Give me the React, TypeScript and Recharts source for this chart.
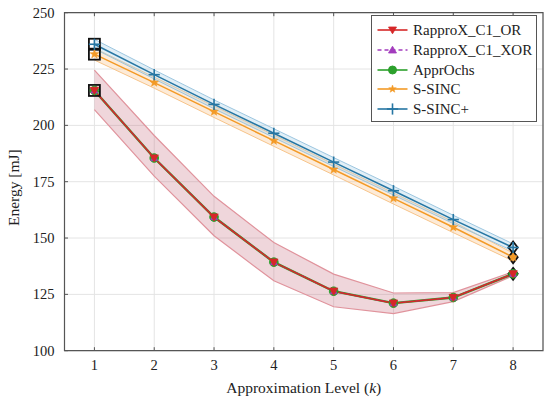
import React from "react";
import {
  Area,
  CartesianGrid,
  ComposedChart,
  Legend,
  Line,
  ReferenceArea,
  Scatter,
  XAxis,
  YAxis,
} from "recharts";

// approximation levels k
const LEVELS = [1, 2, 3, 4, 5, 6, 7, 8];

// energy in mJ
const RAPPROX_OR = [215.5, 185.5, 159.3, 139.3, 126.4, 121.1, 123.6, 134.1];
const RAPPROX_XOR = [215.5, 185.5, 159.3, 139.3, 126.4, 121.1, 123.6, 134.1];
const APPR_OCHS = [215.5, 185.5, 159.3, 139.3, 126.4, 121.1, 123.6, 134.1];
const S_SINC = [231.6, 219.0, 206.1, 193.2, 180.4, 167.6, 154.8, 141.5];
const S_SINC_PLUS = [236.0, 222.5, 209.3, 196.5, 183.7, 171.0, 158.2, 145.8];

// spread bands (min / max)
const OR_LOW = [207.0, 177.5, 151.0, 131.0, 119.5, 116.5, 121.8, 133.3];
const OR_HIGH = [224.5, 195.5, 168.5, 148.0, 134.0, 125.6, 125.8, 135.0];
const SINC_LOW = [229.0, 216.5, 203.5, 190.7, 178.0, 165.1, 152.4, 139.8];
const SINC_HIGH = [234.2, 221.4, 208.6, 195.7, 182.8, 170.0, 157.2, 143.3];
const PLUS_LOW = [234.0, 220.6, 207.4, 194.6, 181.8, 169.1, 156.4, 144.2];
const PLUS_HIGH = [238.2, 224.6, 211.3, 198.5, 185.7, 173.0, 160.1, 147.4];

const Y_TICKS = [100, 125, 150, 175, 200, 225, 250];

const RED = "#d62728";
const PURPLE = "#a23bbd";
const GREEN = "#2ca02c";
const ORANGE = "#f39a26";
const BLUE = "#2676a3";
const AXIS = "#555";
const GRID = "#e4e4e4";
const FONT = "'Liberation Serif', 'DejaVu Serif', serif";

const rows = LEVELS.map((k, i) => ({
  k,
  or: RAPPROX_OR[i],
  xor: RAPPROX_XOR[i],
  ochs: APPR_OCHS[i],
  sinc: S_SINC[i],
  plus: S_SINC_PLUS[i],
  orBand: [OR_LOW[i], OR_HIGH[i]],
  sincBand: [SINC_LOW[i], SINC_HIGH[i]],
  plusBand: [PLUS_LOW[i], PLUS_HIGH[i]],
}));

const first = (s: number[]) => [{ k: LEVELS[0], v: s[0] }];
const last = (s: number[]) => [{ k: LEVELS[LEVELS.length - 1], v: s[s.length - 1] }];

// ---- marker shapes ----
function TriDown({ cx, cy, color, r = 4.2 }: any) {
  return (
    <path
      d={`M${cx - r},${cy - r * 0.75} L${cx + r},${cy - r * 0.75} L${cx},${cy + r * 0.95} Z`}
      fill={color}
      stroke={color}
      strokeWidth={0.8}
    />
  );
}
function TriUp({ cx, cy, color, r = 3.4 }: any) {
  return (
    <path
      d={`M${cx - r},${cy + r * 0.75} L${cx + r},${cy + r * 0.75} L${cx},${cy - r * 0.95} Z`}
      fill={color}
      stroke={color}
      strokeWidth={0.8}
    />
  );
}
function Dot({ cx, cy, color, r = 4.3 }: any) {
  return <circle cx={cx} cy={cy} r={r} fill={color} stroke={color} />;
}
function Star({ cx, cy, color, r = 4.6 }: any) {
  const pts: string[] = [];
  for (let i = 0; i < 10; i++) {
    const rad = i % 2 === 0 ? r : r * 0.42;
    const a = -Math.PI / 2 + (i * Math.PI) / 5;
    pts.push(`${cx + rad * Math.cos(a)},${cy + rad * Math.sin(a)}`);
  }
  return <polygon points={pts.join(" ")} fill={color} stroke={color} strokeWidth={0.5} />;
}
function Plus({ cx, cy, color, r = 5.6 }: any) {
  return (
    <g stroke={color} strokeWidth={1.6}>
      <line x1={cx - r} x2={cx + r} y1={cy} y2={cy} />
      <line x1={cx} x2={cx} y1={cy - r} y2={cy + r} />
    </g>
  );
}

const dotOf = (Shape: any, color: string) => (p: any) =>
  <Shape key={`d${p.index}`} cx={p.cx} cy={p.cy} color={color} />;

const squareShape = (p: any) => (
  <rect x={p.cx - 5.5} y={p.cy - 5.5} width={11} height={11} fill="none" stroke="#111" strokeWidth={1.8} />
);
const diamondShape = (fill: string) => (p: any) => (
  <path
    d={`M${p.cx},${p.cy - 6} L${p.cx + 4.6},${p.cy} L${p.cx},${p.cy + 6} L${p.cx - 4.6},${p.cy} Z`}
    fill={fill}
    fillOpacity={0.75}
    stroke="#111"
    strokeWidth={1.8}
  />
);

// ---- axis ticks (pgfplots style, inward) ----
function LeftTick({ x, y, payload }: any) {
  return (
    <g>
      <line x1={x} x2={x + 3.5} y1={y} y2={y} stroke={AXIS} />
      <text x={x - 10} y={y} dy={4.8} textAnchor="end" fontFamily={FONT} fontSize={14.5} fill="#222">
        {payload.value}
      </text>
    </g>
  );
}
function RightTick({ x, y }: any) {
  return <line x1={x - 3.5} x2={x} y1={y} y2={y} stroke={AXIS} />;
}
function BottomTick({ x, y, payload }: any) {
  return (
    <g>
      <line x1={x} x2={x} y1={y - 3.5} y2={y} stroke={AXIS} />
      <text x={x} y={y} dy={19.5} textAnchor="middle" fontFamily={FONT} fontSize={14.5} fill="#222">
        {payload.value}
      </text>
    </g>
  );
}
function TopTick({ x, y }: any) {
  return <line x1={x} x2={x} y1={y} y2={y + 3.5} stroke={AXIS} />;
}

function XTitle({ viewBox }: any) {
  const { x, y, width } = viewBox;
  return (
    <text x={x + width / 2} y={y + 42.5} textAnchor="middle" fontFamily={FONT} fontSize={15.5} fill="#222">
      Approximation Level (<tspan fontStyle="italic">k</tspan>)
    </text>
  );
}
function YTitle({ viewBox }: any) {
  const { x, y, height } = viewBox;
  const cx = x + 14;
  const cy = y + height / 2 + 6;
  return (
    <text
      x={cx}
      y={cy}
      textAnchor="middle"
      dominantBaseline="central"
      transform={`rotate(-90, ${cx}, ${cy})`}
      fontFamily={FONT}
      fontSize={15.5}
      fill="#222"
    >
      Energy [mJ]
    </text>
  );
}

const LEGEND_ITEMS = [
  { label: "RapproX_C1_OR", color: RED, Shape: TriDown, dash: undefined },
  { label: "RapproX_C1_XOR", color: PURPLE, Shape: TriUp, dash: "4 3" },
  { label: "ApprOchs", color: GREEN, Shape: Dot, dash: undefined },
  { label: "S-SINC", color: ORANGE, Shape: Star, dash: undefined },
  { label: "S-SINC+", color: BLUE, Shape: Plus, dash: undefined },
];

function LegendBox() {
  return (
    <div
      style={{
        boxSizing: "border-box",
        width: 166,
        height: 107,
        border: `1px solid ${AXIS}`,
        background: "#fff",
        paddingTop: 4.5,
        fontFamily: FONT,
        fontSize: 15,
        color: "#222",
      }}
    >
      {LEGEND_ITEMS.map((it) => (
        <div key={it.label} style={{ display: "flex", alignItems: "center", height: 19.7 }}>
          <svg width={36} height={14} style={{ marginLeft: 5, marginRight: 0, flex: "none" }}>
            <line x1={0.5} x2={30.5} y1={7} y2={7} stroke={it.color} strokeWidth={1.6} strokeDasharray={it.dash} />
            <it.Shape cx={15.5} cy={7} color={it.color} r={it.Shape === Plus ? 5.6 : 4} />
          </svg>
          <span style={{ lineHeight: "14px" }}>{it.label}</span>
        </div>
      ))}
    </div>
  );
}

export default function App() {
  return (
    <div style={{ width: 550, height: 404, background: "#fff" }}>
      <style>{"body{margin:0}"}</style>
      <ComposedChart
        width={550}
        height={404}
        data={rows}
        margin={{ top: 11.7, right: 6, bottom: 0, left: 0 }}
      >
        <CartesianGrid xAxisId="b" yAxisId="l" stroke={GRID} strokeWidth={1} />
        <XAxis
          xAxisId="b"
          dataKey="k"
          type="number"
          domain={[0.5, 8.5]}
          ticks={LEVELS}
          height={53.3}
          axisLine={false}
          tickLine={false}
          tickSize={0}
          tickMargin={0}
          tick={<BottomTick />}
          label={<XTitle />}
        />
        <XAxis
          xAxisId="t"
          orientation="top"
          dataKey="k"
          type="number"
          domain={[0.5, 8.5]}
          ticks={LEVELS}
          height={1}
          axisLine={false}
          tickLine={false}
          tickSize={0}
          tickMargin={0}
          tick={<TopTick />}
        />
        <YAxis
          yAxisId="l"
          domain={[100, 250]}
          ticks={Y_TICKS}
          width={64.5}
          axisLine={false}
          tickLine={false}
          tickSize={0}
          tickMargin={0}
          tick={<LeftTick />}
          label={<YTitle />}
        />
        <YAxis
          yAxisId="r"
          orientation="right"
          domain={[100, 250]}
          ticks={Y_TICKS}
          width={1}
          axisLine={false}
          tickLine={false}
          tickSize={0}
          tickMargin={0}
          tick={<RightTick />}
        />

        <Area xAxisId="b" yAxisId="l" type="linear" dataKey="orBand" stroke="#e0939c" strokeWidth={1.2}
          fill="#c46a7c" fillOpacity={0.28} isAnimationActive={false} dot={false} activeDot={false} />
        <Area xAxisId="b" yAxisId="l" type="linear" dataKey="sincBand" stroke="#f7c48a" strokeWidth={1}
          fill="#f8c78f" fillOpacity={0.35} isAnimationActive={false} dot={false} activeDot={false} />
        <Area xAxisId="b" yAxisId="l" type="linear" dataKey="plusBand" stroke="#9cc6e0" strokeWidth={1}
          fill="#a9d0e8" fillOpacity={0.35} isAnimationActive={false} dot={false} activeDot={false} />

        <Line xAxisId="b" yAxisId="l" type="linear" dataKey="ochs" stroke={GREEN} strokeWidth={2.4}
          dot={dotOf(Dot, GREEN)} activeDot={false} isAnimationActive={false} />
        <Line xAxisId="b" yAxisId="l" type="linear" dataKey="xor" stroke={PURPLE} strokeWidth={1.2}
          strokeDasharray="4 3" dot={dotOf(TriUp, PURPLE)} activeDot={false} isAnimationActive={false} />
        <Line xAxisId="b" yAxisId="l" type="linear" dataKey="or" stroke={RED} strokeWidth={1.5}
          dot={dotOf(TriDown, RED)} activeDot={false} isAnimationActive={false} />
        <Line xAxisId="b" yAxisId="l" type="linear" dataKey="sinc" stroke={ORANGE} strokeWidth={1.5}
          dot={dotOf(Star, ORANGE)} activeDot={false} isAnimationActive={false} />
        <Line xAxisId="b" yAxisId="l" type="linear" dataKey="plus" stroke={BLUE} strokeWidth={1.5}
          dot={dotOf(Plus, BLUE)} activeDot={false} isAnimationActive={false} />

        <Scatter xAxisId="b" yAxisId="l" data={first(S_SINC_PLUS)} dataKey="v" shape={squareShape} isAnimationActive={false} />
        <Scatter xAxisId="b" yAxisId="l" data={first(S_SINC)} dataKey="v" shape={squareShape} isAnimationActive={false} />
        <Scatter xAxisId="b" yAxisId="l" data={first(RAPPROX_OR)} dataKey="v" shape={squareShape} isAnimationActive={false} />
        <Scatter xAxisId="b" yAxisId="l" data={last(S_SINC_PLUS)} dataKey="v" shape={diamondShape("#cfe6f3")} isAnimationActive={false} />
        <Scatter xAxisId="b" yAxisId="l" data={last(S_SINC)} dataKey="v" shape={diamondShape(ORANGE)} isAnimationActive={false} />
        <Scatter xAxisId="b" yAxisId="l" data={last(RAPPROX_OR)} dataKey="v" shape={diamondShape(RED)} isAnimationActive={false} />

        <ReferenceArea xAxisId="b" yAxisId="l" x1={0.5} x2={8.5} y1={100} y2={250}
          fill="none" stroke={AXIS} strokeWidth={1.2} ifOverflow="visible" />

        <Legend
          layout="horizontal"
          align="center"
          verticalAlign="middle"
          content={<LegendBox />}
          wrapperStyle={{ position: "absolute", top: 15, left: 371, width: 166, height: 107 }}
        />
      </ComposedChart>
    </div>
  );
}
